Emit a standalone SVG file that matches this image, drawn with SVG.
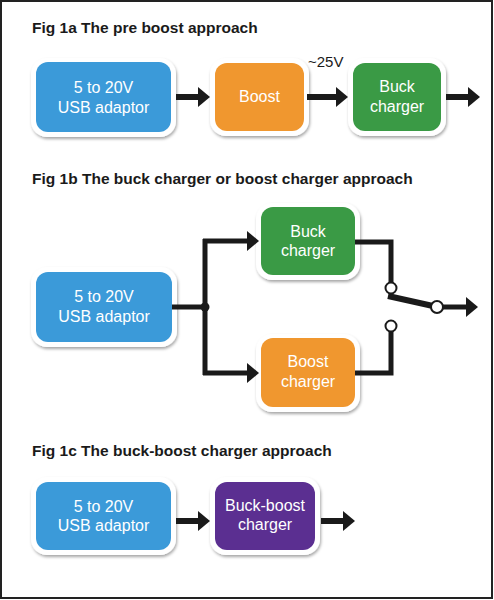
<svg xmlns="http://www.w3.org/2000/svg" width="494" height="600" viewBox="0 0 494 600">
<defs>
<filter id="sh" x="-20%" y="-20%" width="140%" height="150%">
<feDropShadow dx="1" dy="2" stdDeviation="1.6" flood-color="#000" flood-opacity="0.35"/>
</filter>
<marker id="ah" markerUnits="userSpaceOnUse" markerWidth="14" markerHeight="22" refX="2" refY="10" orient="auto">
<path d="M0,0 L12,10 L0,20 Z" fill="#1a1a1a"/>
</marker>
<style>
.title{font-family:"Liberation Sans",Arial,sans-serif;font-weight:bold;font-size:15.5px;fill:#1a1a1a}
.lbl{font-family:"Liberation Sans",Arial,sans-serif;font-size:16px;fill:#fff;text-anchor:middle}
.v{font-family:"Liberation Sans",Arial,sans-serif;font-size:15px;fill:#1a1a1a}
.frame{fill:#fff;filter:url(#sh)}
.blue{fill:#3b9ad9}.orange{fill:#f0972f}.green{fill:#3a9a45}.purple{fill:#5b2f91}
.w{fill:none;stroke:#1a1a1a;stroke-width:5}
.arr{fill:none;stroke:#1a1a1a;stroke-width:6;marker-end:url(#ah)}
.arr5{fill:none;stroke:#1a1a1a;stroke-width:5;marker-end:url(#ah)}
.node{fill:#fff;stroke:#1a1a1a;stroke-width:2}
</style>
</defs>
<rect x="0" y="0" width="494" height="600" fill="#fff"/>
<rect x="1" y="1" width="491" height="597" fill="none" stroke="#222" stroke-width="2"/>

<text class="title" x="32" y="33">Fig 1a The pre boost approach</text>
<text class="title" x="32" y="184">Fig 1b The buck charger or boost charger approach</text>
<text class="title" x="32" y="456">Fig 1c The buck-boost charger approach</text>

<g id="a-usb"><rect class="frame" x="31" y="58" width="145" height="79" rx="16"/><rect class="blue" x="36" y="62" width="135" height="70" rx="12"/><text class="lbl" x="103.5" y="93">5 to 20V</text><text class="lbl" x="103.5" y="113">USB adaptor</text></g>
<g id="a-boost"><rect class="frame" x="210" y="58" width="99" height="78" rx="16"/><rect class="orange" x="215" y="63" width="89" height="68" rx="12"/><text class="lbl" x="259.5" y="102">Boost</text></g>
<g id="a-buck"><rect class="frame" x="348" y="58" width="98" height="78" rx="16"/><rect class="green" x="353" y="63" width="88" height="68" rx="12"/><text class="lbl" x="397" y="92">Buck</text><text class="lbl" x="397" y="112">charger</text></g>
<text class="v" x="308" y="67">~25V</text>

<g id="b-usb"><rect class="frame" x="31" y="267" width="146" height="80" rx="16"/><rect class="blue" x="36" y="272" width="136" height="70" rx="12"/><text class="lbl" x="104" y="302">5 to 20V</text><text class="lbl" x="104" y="322">USB adaptor</text></g>
<g id="b-buck"><rect class="frame" x="256" y="203" width="104" height="77" rx="16"/><rect class="green" x="261" y="207" width="94" height="68" rx="12"/><text class="lbl" x="308" y="237">Buck</text><text class="lbl" x="308" y="256">charger</text></g>
<g id="b-boost"><rect class="frame" x="256" y="334" width="104" height="78" rx="16"/><rect class="orange" x="261" y="338" width="94" height="69" rx="12"/><text class="lbl" x="308" y="367">Boost</text><text class="lbl" x="308" y="387">charger</text></g>

<g id="c-usb"><rect class="frame" x="31" y="477" width="145" height="78" rx="16"/><rect class="blue" x="36" y="482" width="135" height="68" rx="12"/><text class="lbl" x="103.5" y="512">5 to 20V</text><text class="lbl" x="103.5" y="531">USB adaptor</text></g>
<g id="c-bb"><rect class="frame" x="210" y="477" width="110" height="78" rx="16"/><rect class="purple" x="215" y="482" width="100" height="68" rx="12"/><text class="lbl" x="265" y="511">Buck-boost</text><text class="lbl" x="265" y="530">charger</text></g>

<g id="connectors">
<path class="arr" d="M176,97 H200"/>
<path class="arr" d="M307,97 H338"/>
<path class="arr" d="M446,97 H470"/>

<path class="w" d="M172,307 H205"/>
<path class="w" d="M205,239 V375"/>
<path class="arr5" d="M203,241 H249"/>
<path class="arr5" d="M203,373 H249"/>
<circle cx="205" cy="307" r="4.5" fill="#1a1a1a"/>
<path class="w" d="M355,242 H391 V283"/>
<path class="w" d="M355,373 H391 V331"/>
<path d="M388,296 L433,306" stroke="#1a1a1a" stroke-width="6" fill="none"/>
<path class="arr5" d="M442,307 H468"/>
<circle class="node" cx="391" cy="288" r="5.5"/>
<circle class="node" cx="391" cy="326" r="5.5"/>
<circle class="node" cx="437" cy="307" r="6"/>

<path class="arr" d="M176,521 H200"/>
<path class="arr" d="M321,521 H345"/>
</g>
</svg>
